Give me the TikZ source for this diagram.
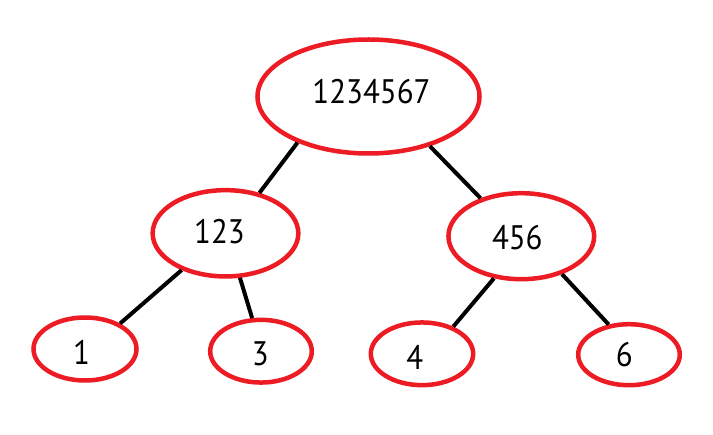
\documentclass[tikz,border=0pt]{standalone}
\usepackage{fontspec}
\setmainfont{PT Sans}[FakeStretch=0.91]
\usetikzlibrary{shapes.geometric}
\definecolor{paintred}{RGB}{237,28,36}
\begin{document}
\begin{tikzpicture}[x=1pt,y=-1pt,
  treenode/.style={ellipse, draw=paintred, line width=4.5pt, inner sep=0pt},
  digits/.style={font=\fontsize{34}{34}\selectfont},
  edge/.style={draw=black, line width=4pt}]
\useasboundingbox[fill=white] (0,0) rectangle (713,435);

% nodes of the tree
\node[treenode, minimum width=222, minimum height=114,
  label={[name=t-root, digits, xshift=3pt, yshift=4.5pt]center:1234567}]
  (root) at (368.5,96.5) {};
\node[treenode, minimum width=145.7, minimum height=86.3,
  label={[name=t-a, digits, xshift=-6pt, yshift=1.8pt]center:123}]
  (a) at (225.5,233.3) {};
\node[treenode, minimum width=145.7, minimum height=86,
  label={[name=t-b, digits, xshift=-4pt, yshift=-1pt]center:456}]
  (b) at (521.3,236.2) {};
\node[treenode, minimum width=103, minimum height=63,
  label={[name=t-1, digits, xshift=-3.5pt, yshift=-3.5pt]center:1}]
  (n1) at (85,349) {};
\node[treenode, minimum width=101.6, minimum height=62.7,
  label={[name=t-3, digits, xshift=-0.7pt, yshift=-3pt]center:3}]
  (n3) at (261,351.2) {};
\node[treenode, minimum width=102.4, minimum height=62.7,
  label={[name=t-4, digits, xshift=-7.3pt, yshift=-3.2pt]center:4}]
  (n4) at (422,353.8) {};
\node[treenode, minimum width=101.6, minimum height=61,
  label={[name=t-6, digits, xshift=-4.8pt, yshift=-0.3pt]center:6}]
  (n6) at (629,354.7) {};

% connectors
\draw[edge] (root.213) -- (a.50);
\draw[edge] (root.321.5) -- (b.137.6);
\draw[edge] (a.220.7) -- (n1.36);
\draw[edge] (a.288.7) -- (n3.105.8);
\draw[edge] (b.237.8) -- (n4.41.4);
\draw[edge] (b.317) -- (n6.124);
\end{tikzpicture}
\end{document}
